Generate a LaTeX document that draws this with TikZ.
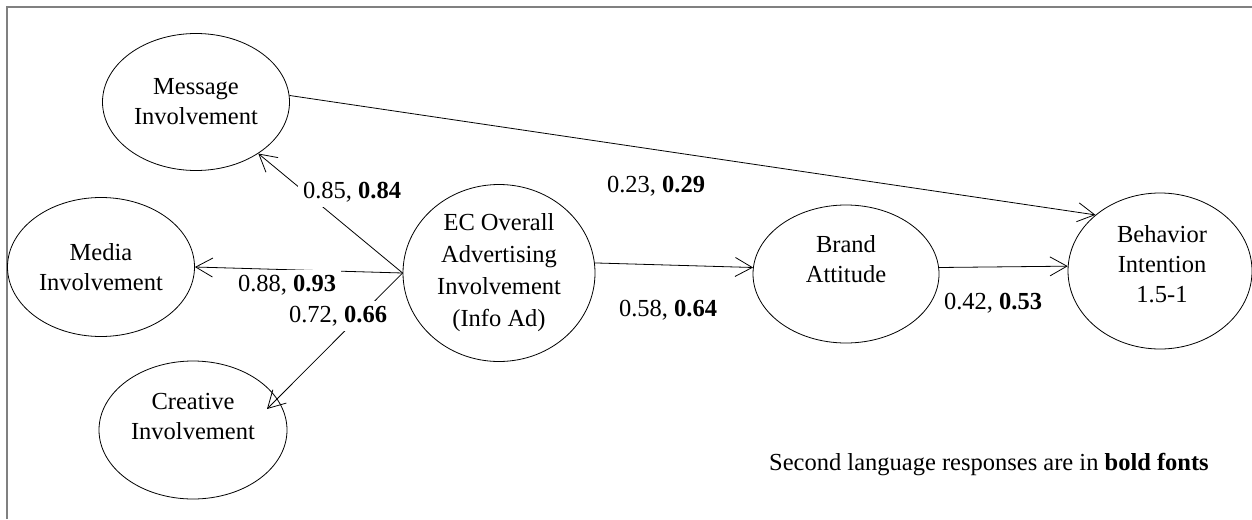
\documentclass[tikz,border=0pt]{standalone}
\usepackage{fontspec}
\setmainfont{Liberation Serif}
\usetikzlibrary{arrows.meta,shapes.geometric}
\begin{document}
\begin{tikzpicture}[x=1pt,y=-1pt,
  ell/.style={draw, ellipse, line width=0.8pt, inner sep=0pt},
  txt/.style={align=center, font=\fontsize{24.5}{30}\selectfont, inner sep=0pt},
  lbl/.style={fill=white, inner sep=5pt, font=\fontsize{24.5}{30}\selectfont},
  arr/.style={line width=0.8pt, -{Straight Barb[length=17pt,width=19pt,line width=0.8pt]}}]
\useasboundingbox (0,0) rectangle (1252,519);
\draw[gray, line width=2pt] (7,519) -- (7,7) -- (1253,7);

% ellipses
\node[ell, minimum width=187pt, minimum height=137pt] (msg) at (196,102) {};
\node[ell, minimum width=187pt, minimum height=139pt] (med) at (101,267) {};
\node[ell, minimum width=188pt, minimum height=138pt] (cre) at (193,430) {};
\node[ell, minimum width=192pt, minimum height=177pt] (ec)  at (499,273) {};
\node[ell, minimum width=186pt, minimum height=138pt] (bra) at (846,274) {};
\node[ell, minimum width=184pt, minimum height=156pt] (beh) at (1160,271) {};

% texts
\node[txt] (msgT) at (196,102) {Message\\Involvement};
\node[txt] (medT) at (101,267) {Media\\Involvement};
\node[txt] (creT) at (193,417) {Creative\\Involvement};
\node[txt, font=\fontsize{24.5}{32}\selectfont] (ecT) at (499,273) {EC Overall\\Advertising\\Involvement\\(Info Ad)};
\node[txt] (braT) at (846,259) {Brand\\Attitude};
\node[txt] (behT) at (1162,264) {Behavior\\Intention\\1.5-1};

\coordinate (creTip) at (267,409);

% connectors
\draw[arr] (ec.west) -- (msg);
\draw[arr] (ec.west) -- (med.east);
\draw[arr] (ec.west) -- (creTip);
\draw[arr] (msg.4) -- (beh.139);
\draw[arr] (ec.6) -- (bra.176);
\draw[arr] (bra.4) -- (beh.177);

% labels
\node[lbl] (l1) at (352,192) {0.85, \textbf{0.84}};
\node[lbl] (l2) at (287,285) {0.88, \textbf{0.93}};
\node[lbl] (l3) at (338,316) {0.72, \textbf{0.66}};
\node[lbl] (l4) at (656,186) {0.23, \textbf{0.29}};
\node[lbl] (l5) at (668,310) {0.58, \textbf{0.64}};
\node[lbl] (l6) at (993,303) {0.42, \textbf{0.53}};
\node[txt] (note) at (989,465) {Second language responses are in \textbf{bold fonts}};
\end{tikzpicture}
\end{document}
